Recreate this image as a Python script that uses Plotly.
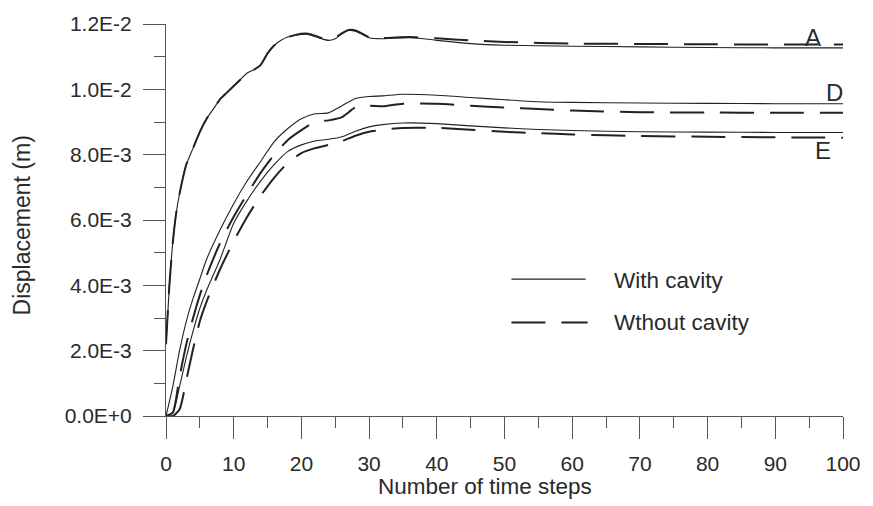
import plotly.graph_objects as go

# ---- data (displacement values in units of 1E-3 m) ----
x_A = [0, 0.5, 1, 1.5, 2, 3, 4, 5, 6, 7, 8, 9, 10, 11, 12, 13, 14, 15, 16, 17, 18, 19, 20,
       21, 22, 23, 24, 25, 26, 27, 28, 29, 30, 32, 34, 36, 38, 40, 45, 50, 60, 70, 80, 90, 100]
A_with = [2.2, 4.0, 5.3, 6.2, 6.8, 7.7, 8.2, 8.7, 9.1, 9.4, 9.7, 9.9, 10.1, 10.3, 10.5, 10.6,
          10.75, 11.1, 11.35, 11.5, 11.6, 11.65, 11.68, 11.68, 11.62, 11.55, 11.5, 11.55, 11.7,
          11.8, 11.78, 11.68, 11.58, 11.55, 11.57, 11.58, 11.55, 11.5, 11.4, 11.35, 11.32,
          11.3, 11.28, 11.27, 11.27]
A_without = [2.2, 4.0, 5.3, 6.2, 6.8, 7.7, 8.2, 8.7, 9.1, 9.4, 9.7, 9.9, 10.1, 10.3, 10.5, 10.6,
             10.75, 11.1, 11.35, 11.5, 11.6, 11.66, 11.7, 11.7, 11.64, 11.57, 11.52, 11.58, 11.72,
             11.82, 11.8, 11.7, 11.6, 11.57, 11.59, 11.6, 11.58, 11.56, 11.5, 11.45, 11.4,
             11.39, 11.38, 11.37, 11.37]

x_DE = [0, 1, 2, 3, 4, 5, 6, 8, 10, 12, 14, 16, 18, 20, 22, 24, 26, 28, 30, 32, 35, 40,
        45, 50, 55, 60, 70, 80, 90, 100]
D_with = [0, 0.9, 2.0, 2.9, 3.6, 4.2, 4.8, 5.7, 6.5, 7.2, 7.8, 8.4, 8.8, 9.1, 9.25, 9.28,
          9.5, 9.72, 9.78, 9.8, 9.85, 9.82, 9.75, 9.68, 9.62, 9.6, 9.58, 9.57, 9.56, 9.56]
D_without = [0, 0.1, 1.2, 2.2, 3.0, 3.7, 4.3, 5.3, 6.1, 6.8, 7.45, 8.0, 8.45, 8.75, 9.0, 9.05,
             9.15, 9.45, 9.5, 9.48, 9.56, 9.56, 9.5, 9.44, 9.4, 9.35, 9.3, 9.29, 9.28, 9.28]
E_with = [0, 0.1, 0.9, 1.8, 2.6, 3.3, 3.85, 4.8, 5.9, 6.6, 7.2, 7.7, 8.1, 8.3, 8.42, 8.47,
          8.55, 8.72, 8.85, 8.92, 8.97, 8.95, 8.88, 8.82, 8.77, 8.74, 8.7, 8.69, 8.68, 8.68]
E_without = [0, 0, 0.2, 1.1, 2.05, 2.9, 3.5, 4.5, 5.35, 6.1, 6.75, 7.3, 7.75, 8.05, 8.2, 8.3,
             8.42, 8.58, 8.7, 8.76, 8.82, 8.82, 8.76, 8.7, 8.66, 8.62, 8.57, 8.55, 8.53, 8.52]

y_tickvals = [0, 2, 4, 6, 8, 10, 12]
y_ticktext = ["0.0E+0", "2.0E-3", "4.0E-3", "6.0E-3", "8.0E-3", "1.0E-2", "1.2E-2"]
x_tickvals = [0, 10, 20, 30, 40, 50, 60, 70, 80, 90, 100]

curve_labels = ["A", "D", "E"]
label_x = [95.5, 98.8, 97.1]
label_y = [11.6, 9.89, 8.14]

legend_names = ["With cavity", "Wthout cavity"]

FONT = "Liberation Sans, Arial, sans-serif"
INK = "#222222"
TXT = "#2a2a2a"
DASH = "34px,16px"
SCALE = 1e-3


def m(vals):
    return [v * SCALE for v in vals]


fig = go.Figure()
series = [
    (x_A, A_with, "A " + legend_names[0], "solid", 1.1),
    (x_A, A_without, "A " + legend_names[1], DASH, 2.0),
    (x_DE, D_with, "D " + legend_names[0], "solid", 1.1),
    (x_DE, D_without, "D " + legend_names[1], DASH, 2.0),
    (x_DE, E_with, "E " + legend_names[0], "solid", 1.1),
    (x_DE, E_without, "E " + legend_names[1], DASH, 2.0),
]
for xs, ys, name, dash, w in series:
    fig.add_trace(go.Scatter(
        x=xs, y=m(ys), mode="lines", name=name, showlegend=False,
        line=dict(color=INK, width=w, dash=dash, shape="spline", smoothing=0.6),
    ))

# plot area in pixels: x 166..850, y 18..416
L, R, T, B = 166, 850, 18, 416
W, H = R - L, B - T


def px(xp):
    return (xp - L) / W


def py(yp):
    return (B - yp) / H


annotations = []
for t, lx, ly in zip(curve_labels, label_x, label_y):
    annotations.append(dict(x=lx, y=ly * SCALE, xref="x", yref="y", text=t, showarrow=False,
                            font=dict(family=FONT, size=24, color=TXT)))

# manual legend
shapes = [
    dict(type="line", xref="paper", yref="paper", x0=px(515), x1=px(590), y0=py(277), y1=py(277),
         line=dict(color=INK, width=1.1)),
    dict(type="line", xref="paper", yref="paper", x0=px(515), x1=px(592), y0=py(321), y1=py(321),
         line=dict(color=INK, width=2.0, dash=DASH)),
]
annotations.append(dict(x=px(617), y=py(278), xref="paper", yref="paper", text=legend_names[0],
                        showarrow=False, xanchor="left", yanchor="middle",
                        font=dict(family=FONT, size=22.5, color=TXT)))
annotations.append(dict(x=px(617), y=py(321), xref="paper", yref="paper", text=legend_names[1],
                        showarrow=False, xanchor="left", yanchor="middle",
                        font=dict(family=FONT, size=22.5, color=TXT)))

# axis titles
annotations.append(dict(x=px(488), y=py(488), xref="paper", yref="paper",
                        text="Number of time steps", showarrow=False,
                        xanchor="center", yanchor="middle",
                        font=dict(family=FONT, size=22.5, color=TXT)))
annotations.append(dict(x=px(20), y=py(222), xref="paper", yref="paper",
                        text="Displacement (m)", showarrow=False, textangle=-90,
                        xanchor="center", yanchor="middle",
                        font=dict(family=FONT, size=23, color=TXT)))

fig.update_layout(
    width=873, height=506,
    margin=dict(l=L, r=873 - R, t=T, b=506 - B, pad=0),
    paper_bgcolor="white", plot_bgcolor="white",
    font=dict(family=FONT, color=TXT),
    shapes=shapes, annotations=annotations,
    showlegend=False,
)
fig.update_xaxes(
    range=[0, 100], tickvals=x_tickvals, ticks="outside", ticklen=22, tickwidth=1,
    tickcolor="#555555", showline=True, linecolor="#555555", linewidth=1,
    showgrid=False, zeroline=False, tickfont=dict(family=FONT, size=21, color=TXT),
    ticklabelstandoff=7,
    minor=dict(dtick=5, ticks="outside", ticklen=11, tickcolor="#555555", tickwidth=1, showgrid=False),
)
fig.update_yaxes(
    range=[0, 12 * SCALE], tickvals=m(y_tickvals), ticktext=y_ticktext, ticks="outside",
    ticklen=22, tickwidth=1, tickcolor="#555555", showline=True, linecolor="#555555",
    linewidth=1, showgrid=False, zeroline=False, ticklabelstandoff=7,
    tickfont=dict(family=FONT, size=21, color=TXT),
    minor=dict(dtick=1 * SCALE, ticks="outside", ticklen=11, tickcolor="#555555", tickwidth=1,
               showgrid=False),
)

fig.write_html("out.html")
